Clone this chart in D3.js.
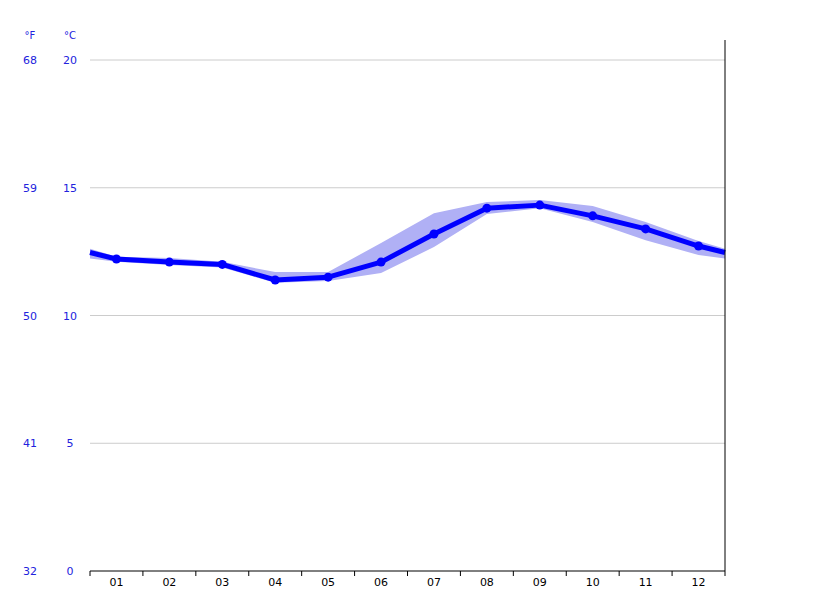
<!DOCTYPE html>
<html><head><meta charset="utf-8">
<script src="https://cdn.jsdelivr.net/npm/d3@7"></script>
<style>body{margin:0;background:#fff}text{font-family:"DejaVu Sans",sans-serif;font-size:11px}</style>
</head><body><svg id="c" width="815" height="611"></svg>
<script>
const months=["01","02","03","04","05","06","07","08","09","10","11","12"];
const avgTemp=[12.21,12.09,12.0,11.39,11.5,12.09,13.19,14.2,14.32,13.9,13.39,12.72];
const maxTemp=[12.3,12.25,12.1,11.7,11.7,12.84,14.0,14.44,14.52,14.29,13.66,12.92];
const minTemp=[12.1,11.98,11.88,11.28,11.35,11.66,12.68,13.97,14.2,13.66,12.95,12.37];
const cTicks=[0,5,10,15,20];
const fTicks=["32","41","50","59","68"];
const svg=d3.select("#c");
const L=90,R=725,T=60,B=571;
const y=d3.scaleLinear().domain([0,20]).range([B,T]);
const xb=d3.scaleBand().domain(months).range([L,R]);
const cx=i=>xb(months[i])+xb.bandwidth()/2;
// grid
svg.selectAll(".g").data(cTicks.filter(d=>d>0)).enter().append("line")
 .attr("x1",L).attr("x2",R).attr("y1",d=>y(d)).attr("y2",d=>y(d)).attr("stroke","#ccc");
// labels
cTicks.forEach((d,i)=>{
 svg.append("text").attr("x",70).attr("y",y(d)+4).attr("text-anchor","middle").attr("fill","#2222dd").text(d);
 svg.append("text").attr("x",30).attr("y",y(d)+4).attr("text-anchor","middle").attr("fill","#2222dd").text(fTicks[i]);
});
svg.append("text").attr("x",30).attr("y",39).attr("text-anchor","middle").attr("fill","#2222dd").style("font-size","10px").text("°F");
svg.append("text").attr("x",70).attr("y",39).attr("text-anchor","middle").attr("fill","#2222dd").style("font-size","10px").text("°C");
// wrap helper
function wrapPts(arr){
 const pts=arr.map((v,i)=>[cx(i),y(v)]);
 const e=(arr[0]+arr[11])/2;
 return [[L,y(e)],...pts,[R,y(e)]];
}
const up=wrapPts(maxTemp), lo=wrapPts(minTemp);
svg.append("path").attr("d",d3.line()([...up,...lo.reverse()])+"Z").attr("fill","#b0b0f5");
svg.append("path").attr("d",d3.line()(wrapPts(avgTemp))).attr("fill","none").attr("stroke","#0000ff").attr("stroke-width",5).attr("stroke-linejoin","round");
svg.selectAll(".p").data(avgTemp).enter().append("circle").attr("cx",(d,i)=>cx(i)).attr("cy",d=>y(d)).attr("r",4.5).attr("fill","#0000ff");
// axes
svg.append("line").attr("x1",L).attr("x2",R).attr("y1",B).attr("y2",B).attr("stroke","#000");
svg.append("line").attr("x1",R).attr("x2",R).attr("y1",40).attr("y2",B).attr("stroke","#000");
for(let i=0;i<=12;i++){const xx=L+xb.bandwidth()*i;svg.append("line").attr("x1",xx).attr("x2",xx).attr("y1",B).attr("y2",B+5).attr("stroke","#000");}
months.forEach((m,i)=>svg.append("text").attr("x",cx(i)).attr("y",B+15).attr("text-anchor","middle").attr("fill","#000").text(m));
</script></body></html>
